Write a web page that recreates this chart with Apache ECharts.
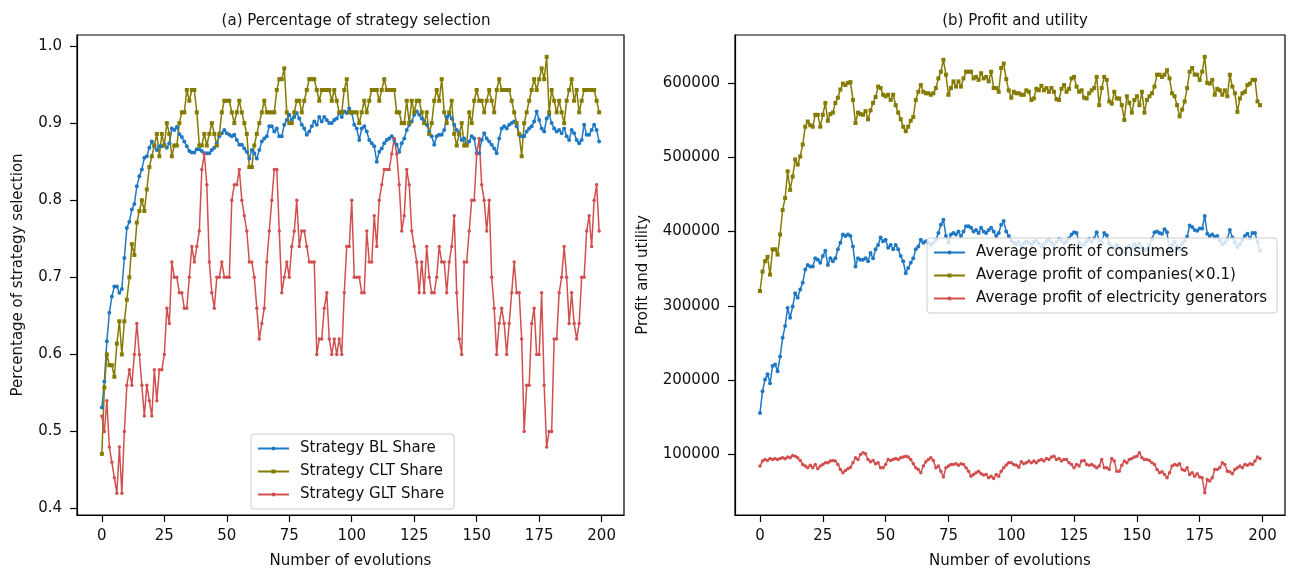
<!DOCTYPE html>
<html>
<head>
<meta charset="utf-8">
<script src="https://cdn.jsdelivr.net/npm/echarts@6/dist/echarts.min.js"></script>
<style>
html,body{margin:0;padding:0;background:#fff;}
#main{width:1292px;height:574px;}
</style>
</head>
<body>
<div id="main"></div>
<script>
// 刻度
var xTicks = [0, 25, 50, 75, 100, 125, 150, 175, 200];
var shareTicks = [0.4, 0.5, 0.6, 0.7, 0.8, 0.9, 1.0];
var profitTicks = [100000, 200000, 300000, 400000, 500000, 600000];

// (a) 策略占比, 每次演化一个值
var blShare = [
0.531,0.565,0.617,0.654,0.675,0.688,0.688,0.680,0.685,0.725,
0.764,0.772,0.788,0.795,0.818,0.831,0.840,0.855,0.857,0.868,
0.876,0.870,0.865,0.870,0.870,0.872,0.868,0.874,0.893,0.891,
0.895,0.886,0.882,0.876,0.870,0.864,0.862,0.862,0.866,0.866,
0.864,0.861,0.861,0.861,0.865,0.868,0.874,0.883,0.887,0.891,
0.887,0.885,0.883,0.885,0.878,0.872,0.872,0.867,0.863,0.854,
0.865,0.861,0.854,0.865,0.876,0.880,0.883,0.896,0.896,0.889,
0.893,0.883,0.883,0.898,0.904,0.911,0.904,0.908,0.913,0.906,
0.898,0.893,0.885,0.889,0.896,0.902,0.898,0.908,0.902,0.908,
0.904,0.900,0.900,0.904,0.906,0.913,0.908,0.915,0.913,0.919,
0.913,0.898,0.893,0.878,0.893,0.896,0.889,0.878,0.874,0.870,
0.850,0.863,0.867,0.874,0.878,0.880,0.883,0.878,0.872,0.863,
0.874,0.880,0.891,0.898,0.902,0.911,0.915,0.911,0.906,0.902,
0.898,0.889,0.883,0.872,0.883,0.885,0.885,0.891,0.908,0.911,
0.906,0.898,0.891,0.887,0.878,0.880,0.872,0.876,0.883,0.880,
0.861,0.861,0.878,0.887,0.880,0.876,0.872,0.867,0.861,0.880,
0.893,0.896,0.893,0.898,0.900,0.902,0.896,0.885,0.883,0.883,
0.889,0.893,0.896,0.902,0.915,0.904,0.893,0.889,0.906,0.911,
0.900,0.893,0.889,0.891,0.887,0.893,0.883,0.878,0.891,0.887,
0.878,0.874,0.878,0.898,0.885,0.885,0.891,0.898,0.891,0.876
];
var cltShare = [
0.471,0.557,0.600,0.586,0.586,0.571,0.614,0.643,0.600,0.643,
0.671,0.700,0.743,0.729,0.771,0.786,0.800,0.786,0.814,0.843,
0.857,0.871,0.886,0.857,0.886,0.871,0.900,0.886,0.857,0.871,
0.871,0.900,0.914,0.914,0.943,0.929,0.943,0.943,0.914,0.871,
0.871,0.886,0.871,0.886,0.900,0.886,0.871,0.886,0.914,0.929,
0.929,0.929,0.914,0.900,0.914,0.929,0.914,0.900,0.886,0.843,
0.843,0.871,0.886,0.900,0.914,0.929,0.914,0.914,0.914,0.914,
0.943,0.957,0.957,0.971,0.914,0.900,0.900,0.914,0.929,0.929,
0.914,0.929,0.943,0.957,0.957,0.957,0.943,0.929,0.943,0.943,
0.943,0.943,0.929,0.943,0.929,0.914,0.914,0.943,0.957,0.914,
0.914,0.914,0.914,0.900,0.914,0.929,0.914,0.929,0.943,0.943,
0.943,0.929,0.943,0.957,0.943,0.943,0.943,0.943,0.914,0.914,
0.900,0.900,0.929,0.900,0.929,0.914,0.929,0.929,0.914,0.900,
0.914,0.886,0.900,0.929,0.943,0.929,0.957,0.914,0.900,0.914,
0.929,0.886,0.871,0.886,0.900,0.871,0.871,0.914,0.900,0.929,
0.943,0.929,0.929,0.914,0.929,0.943,0.929,0.914,0.943,0.957,
0.943,0.943,0.943,0.943,0.929,0.914,0.900,0.886,0.857,0.900,
0.914,0.929,0.943,0.957,0.943,0.957,0.971,0.957,0.986,0.914,
0.943,0.929,0.914,0.929,0.914,0.900,0.929,0.943,0.957,0.929,
0.943,0.914,0.929,0.943,0.943,0.943,0.943,0.943,0.929,0.914
];
var gltShare = [
0.52,0.50,0.54,0.48,0.46,0.44,0.42,0.48,0.42,0.50,
0.56,0.58,0.56,0.60,0.64,0.60,0.56,0.52,0.56,0.54,
0.52,0.58,0.54,0.58,0.58,0.60,0.66,0.64,0.72,0.70,
0.70,0.68,0.68,0.66,0.66,0.70,0.74,0.72,0.74,0.76,
0.84,0.86,0.82,0.72,0.68,0.66,0.70,0.70,0.72,0.70,
0.70,0.70,0.80,0.82,0.82,0.84,0.80,0.78,0.76,0.72,
0.72,0.70,0.66,0.62,0.64,0.66,0.72,0.76,0.80,0.84,
0.84,0.76,0.68,0.70,0.72,0.70,0.74,0.76,0.80,0.74,
0.76,0.76,0.74,0.72,0.72,0.72,0.60,0.62,0.62,0.66,
0.68,0.62,0.60,0.62,0.60,0.62,0.60,0.68,0.74,0.74,
0.80,0.70,0.70,0.70,0.68,0.68,0.76,0.72,0.72,0.78,
0.74,0.80,0.82,0.84,0.84,0.84,0.86,0.88,0.86,0.82,
0.76,0.78,0.84,0.82,0.76,0.74,0.72,0.68,0.72,0.68,
0.74,0.70,0.68,0.68,0.70,0.74,0.72,0.72,0.68,0.72,
0.74,0.78,0.68,0.62,0.60,0.72,0.72,0.76,0.80,0.80,
0.86,0.88,0.82,0.80,0.76,0.80,0.70,0.66,0.60,0.64,
0.66,0.64,0.60,0.64,0.68,0.72,0.68,0.68,0.62,0.50,
0.56,0.56,0.64,0.66,0.60,0.60,0.68,0.56,0.48,0.50,
0.50,0.62,0.62,0.68,0.70,0.74,0.70,0.64,0.68,0.64,
0.62,0.64,0.70,0.70,0.76,0.78,0.74,0.80,0.82,0.76
];

// (b) 平均收益
var consumerProfit = [
156000,185000,201000,208000,196000,219000,221000,212000,232000,257000,
273000,297000,284000,299000,317000,311000,322000,331000,349000,355000,
353000,353000,364000,362000,358000,367000,374000,355000,364000,360000,
364000,376000,385000,396000,394000,396000,394000,380000,353000,364000,
362000,362000,364000,360000,371000,364000,376000,382000,392000,387000,
389000,378000,382000,376000,382000,376000,367000,360000,344000,351000,
358000,364000,376000,380000,389000,385000,387000,385000,382000,385000,
389000,398000,409000,416000,394000,385000,396000,398000,396000,400000,
394000,400000,407000,407000,405000,400000,402000,398000,405000,400000,
398000,402000,405000,400000,394000,398000,409000,414000,400000,394000,
388000,385000,383000,386000,380000,384000,387000,385000,382000,386000,
388000,384000,380000,383000,387000,389000,385000,382000,386000,390000,
388000,384000,387000,391000,396000,399000,398000,385000,380000,383000,
387000,390000,386000,391000,399000,388000,384000,398000,395000,384000,
380000,377000,382000,378000,375000,372000,378000,381000,377000,383000,
380000,384000,378000,375000,376000,382000,390000,399000,400000,398000,
397000,403000,399000,372000,382000,386000,380000,376000,384000,388000,
393000,408000,406000,402000,401000,404000,404000,421000,397000,394000,
396000,393000,394000,388000,383000,385000,390000,402000,392000,386000,
379000,383000,389000,394000,397000,391000,398000,398000,386000,374000
];
var companyProfit = [
320000,346000,360000,366000,342000,376000,376000,369000,396000,429000,
445000,481000,456000,474000,497000,490000,501000,517000,541000,548000,
543000,541000,557000,557000,541000,557000,573000,549000,558000,560000,
573000,580000,591000,599000,597000,600000,601000,577000,546000,560000,
558000,557000,562000,551000,563000,573000,581000,595000,593000,584000,
582000,584000,577000,584000,570000,560000,551000,541000,535000,541000,
549000,554000,577000,588000,597000,588000,586000,586000,584000,586000,
593000,606000,615000,631000,611000,584000,593000,602000,595000,602000,
595000,606000,615000,615000,615000,606000,608000,604000,613000,606000,
608000,602000,615000,593000,593000,588000,620000,626000,605000,590000,
580000,588000,586000,586000,584000,584000,590000,588000,577000,579000,
592000,590000,596000,590000,593000,588000,593000,588000,578000,577000,
592000,597000,588000,592000,606000,608000,595000,588000,590000,580000,
579000,586000,590000,593000,608000,570000,593000,608000,604000,575000,
572000,588000,579000,579000,570000,550000,582000,573000,560000,577000,
582000,570000,588000,560000,577000,582000,586000,595000,611000,611000,
608000,611000,617000,606000,586000,582000,570000,555000,564000,575000,
593000,615000,620000,611000,611000,604000,615000,635000,600000,599000,
604000,584000,592000,590000,584000,590000,582000,611000,595000,586000,
561000,579000,586000,588000,597000,599000,604000,604000,575000,570000
];
var generatorProfit = [
84400,91100,93300,92000,94700,93300,94700,93300,94700,95600,
94200,96500,95600,98700,97800,95600,92000,86600,84400,82100,
85700,82100,86600,80800,84400,86600,88800,88800,91100,92000,
91100,86600,79900,75400,78500,80800,83000,88800,95600,93300,
100000,102300,100900,93300,90200,92000,87500,88800,82100,82100,
86600,93300,92000,93300,94700,93300,95600,96500,97800,96500,
93300,87500,82100,79900,75400,84400,90200,93300,95600,92000,
82100,84400,77600,69600,82100,84400,86600,86600,87500,85700,
87500,86600,82100,77600,70900,73200,75400,77600,74000,72300,
73200,68700,70900,67800,73200,70900,77600,82100,86000,89000,
88800,86600,85700,83000,90200,87500,88800,91100,88800,91100,
88800,92000,93300,91100,94700,93300,96500,97800,93300,94700,
91100,93300,93300,88800,86600,82100,86600,84400,91100,92000,
86600,85700,86600,84400,82100,84400,93300,82100,82100,79900,
94700,91100,77600,77600,85700,91100,88800,93300,94700,96500,
97800,102300,95600,93300,93300,92000,88800,86600,79900,75400,
76700,73200,68700,75400,84400,86600,85700,87500,79900,78500,
82100,73200,75400,70900,74000,69600,68700,48500,66400,64200,
68700,79900,79900,82100,88800,86600,77600,76700,74000,79900,
82100,84400,82100,86600,85700,87500,86600,91100,96500,94700
];

var FONT = 'DejaVu Sans';
var TXT = '#111';
var BLUE = '#1f78c4';
var OLIVE = '#857b00';
var RED = '#d24f4f';

function pairs(arr) {
    return arr.map(function (v, i) { return [i, v]; });
}

function xAxisOpt(idx) {
    return {
        gridIndex: idx,
        type: 'value',
        min: -9.95,
        max: 208.95,
        name: 'Number of evolutions',
        nameLocation: 'middle',
        nameGap: 39,
        nameTextStyle: {fontFamily: FONT, fontSize: 15, color: TXT},
        axisLine: {show: true, onZero: false, lineStyle: {color: '#000', width: 1.2}},
        axisTick: {show: true, customValues: xTicks, length: 7, lineStyle: {color: '#000', width: 1.2}},
        axisLabel: {customValues: xTicks, margin: 14, fontFamily: FONT, fontSize: 15, color: TXT},
        splitLine: {show: false}
    };
}

function lineSeries(name, arr, color, symbol, size, xi) {
    return {
        name: name,
        type: 'line',
        xAxisIndex: xi,
        yAxisIndex: xi,
        data: pairs(arr),
        symbol: symbol,
        symbolSize: size,
        showSymbol: true,
        lineStyle: {color: color, width: 1.5},
        itemStyle: {color: color},
        emphasis: {disabled: true},
        animation: false
    };
}

var legendBase = {
    orient: 'vertical',
    itemWidth: 31,
    itemHeight: 5,
    itemGap: 6,
    padding: [6, 10, 6, 6],
    backgroundColor: 'rgba(255,255,255,0.8)',
    borderColor: '#cccccc',
    borderWidth: 1,
    borderRadius: 3,
    textStyle: {fontFamily: FONT, fontSize: 15, color: TXT, lineHeight: 17, padding: [0, 0, 0, 6]}
};

var option = {
    backgroundColor: '#fff',
    animation: false,
    title: [
        {text: '(a) Percentage of strategy selection', left: 351, top: 9, textAlign: 'center',
         textStyle: {fontFamily: FONT, fontSize: 15, fontWeight: 'normal', color: TXT}},
        {text: '(b) Profit and utility', left: 1010, top: 9, textAlign: 'center',
         textStyle: {fontFamily: FONT, fontSize: 15, fontWeight: 'normal', color: TXT}}
    ],
    grid: [
        {left: 77, top: 35, width: 547, height: 481, show: true, borderColor: '#000', borderWidth: 1.2},
        {left: 735, top: 35, width: 550, height: 481, show: true, borderColor: '#000', borderWidth: 1.2}
    ],
    xAxis: [xAxisOpt(0), xAxisOpt(1)],
    yAxis: [
        {
            gridIndex: 0, type: 'value', min: 0.3917, max: 1.0143,
            name: 'Percentage of strategy selection', nameLocation: 'middle', nameGap: 51,
            nameTextStyle: {fontFamily: FONT, fontSize: 15, color: TXT},
            axisLine: {show: true, onZero: false, lineStyle: {color: '#000', width: 1.2}},
            axisTick: {show: true, customValues: shareTicks, length: 7, lineStyle: {color: '#000', width: 1.2}},
            axisLabel: {customValues: shareTicks, margin: 15, fontFamily: FONT, fontSize: 15, color: TXT,
                formatter: function (v) { return v.toFixed(1); }},
            splitLine: {show: false}
        },
        {
            gridIndex: 1, type: 'value', min: 18600, max: 664400,
            name: 'Profit and utility', nameLocation: 'middle', nameGap: 84,
            nameTextStyle: {fontFamily: FONT, fontSize: 15, color: TXT},
            axisLine: {show: true, onZero: false, lineStyle: {color: '#000', width: 1.2}},
            axisTick: {show: true, customValues: profitTicks, length: 7, lineStyle: {color: '#000', width: 1.2}},
            axisLabel: {customValues: profitTicks, margin: 15, fontFamily: FONT, fontSize: 15, color: TXT,
                formatter: function (v) { return String(Math.round(v)); }},
            splitLine: {show: false}
        }
    ],
    legend: [
        echarts.util.merge({left: 251, top: 434,
            data: ['Strategy BL Share', 'Strategy CLT Share', 'Strategy GLT Share']}, legendBase),
        echarts.util.merge({left: 927, top: 238,
            data: ['Average profit of consumers', 'Average profit of companies(\u00d70.1)', 'Average profit of electricity generators']}, legendBase)
    ],
    series: [
        lineSeries('Strategy BL Share', blShare, BLUE, 'circle', 4, 0),
        lineSeries('Strategy CLT Share', cltShare, OLIVE, 'rect', 4, 0),
        lineSeries('Strategy GLT Share', gltShare, RED, 'circle', 3.5, 0),
        lineSeries('Average profit of consumers', consumerProfit, BLUE, 'circle', 4, 1),
        lineSeries('Average profit of companies(\u00d70.1)', companyProfit, OLIVE, 'rect', 4, 1),
        lineSeries('Average profit of electricity generators', generatorProfit, RED, 'circle', 3.5, 1)
    ]
};

var myChart = echarts.init(document.getElementById('main'));
myChart.setOption(option);
</script>
</body>
</html>
